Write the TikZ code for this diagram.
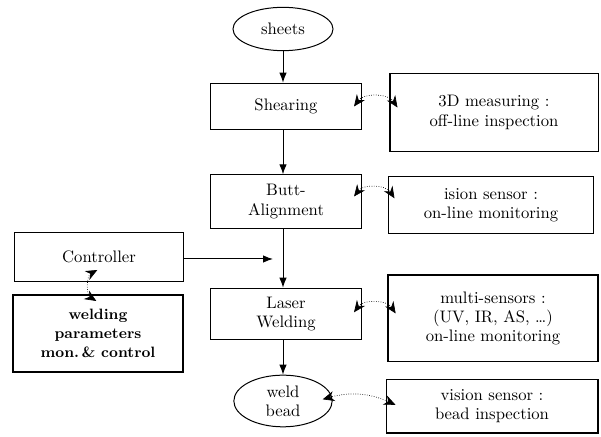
\documentclass[tikz,border=0pt]{standalone}
\usetikzlibrary{positioning,shapes.geometric,arrows.meta}

\begin{document}
\begin{tikzpicture}[x=0.6pt, y=-0.6pt,
        every node/.style={font=\fontsize{10}{11.5}\selectfont, align=center},
        stage/.style={rectangle, draw, line width=0.6pt, minimum width=91pt, minimum height=30pt},
        sensor/.style={rectangle, draw, line width=0.8pt, minimum width=125pt},
        part/.style={ellipse, draw, line width=0.6pt, inner sep=1pt},
        arrow/.style={-{Latex[length=6pt,width=4.5pt]}, line width=0.6pt},
        link/.style={{Stealth[length=7pt,width=6pt]}-{Stealth[length=7pt,width=6pt]}, densely dotted, line width=0.4pt}
    ]
        \useasboundingbox (0,0) rectangle (601,437);

        \node[part, minimum width=60pt, minimum height=26pt] (sheets) at (283,29) {sheets};
        \node[stage, minimum height=28pt] (shear) at (286,106.5) {Shearing};
        \node[stage, minimum height=32pt] (butt) at (286,201.5) {Butt-\\Alignment};
        \node[stage, minimum height=31pt] (laser) at (286,314) {Laser\\Welding};
        \node[part, minimum width=59pt, minimum height=31pt] (bead) at (283,401) {weld\\bead};

        \node[sensor, minimum height=47pt] (measure) at (494,112.5) {3D measuring :\\off-line inspection};
        \node[sensor, minimum width=123pt, minimum height=34pt] (vis) at (491,205) {ision sensor :\\on-line monitoring};
        \node[sensor, minimum width=126pt, minimum height=52pt] (multi) at (493,318.5) {multi-sensors :\\(UV, IR, AS, \dots)\\on-line monitoring};
        \node[sensor, minimum width=127pt, minimum height=32pt] (vsens) at (492,406.5) {vision sensor :\\bead inspection};

        \node[stage, minimum width=101pt, minimum height=29pt] (ctrl) at (99,257) {Controller};
        \node[sensor, minimum width=102pt, minimum height=46pt, line width=1pt,
              font=\fontsize{9}{11.4}\selectfont\bfseries] (weldp) at (98,333.5) {welding\\parameters\\mon.\,\& control};
        \coordinate (feed) at (273,259);

        \draw[arrow] (sheets.south) -- (sheets.south |- shear.north);
        \draw[arrow] (sheets.south |- shear.south) -- (sheets.south |- butt.north);
        \draw[arrow] (sheets.south |- butt.south) -- (sheets.south |- laser.north);
        \draw[arrow] (sheets.south |- laser.south) -- (bead);
        \draw[arrow] (ctrl.east |- feed) -- (feed);

        \draw[link] ([shift={(-5pt,0pt)}]shear.east) to[bend left=55] ([shift={(5pt,3pt)}]measure.west);
        \draw[link] ([shift={(-5pt,3pt)}]butt.east) to[bend left=55] ([shift={(4pt,4pt)}]vis.west);
        \draw[link] ([shift={(-5pt,1pt)}]laser.east) to[bend left=55] ([shift={(5pt,3pt)}]multi.west);
        \draw[link] ([shift={(-6pt,1pt)}]bead.east) to[bend left=20] ([shift={(6pt,1pt)}]vsens.west);
        \draw[link] ([shift={(-1pt,7pt)}]ctrl.south) to[bend right=60] ([shift={(-1pt,-4pt)}]weldp.north);
    \end{tikzpicture}
\end{document}
